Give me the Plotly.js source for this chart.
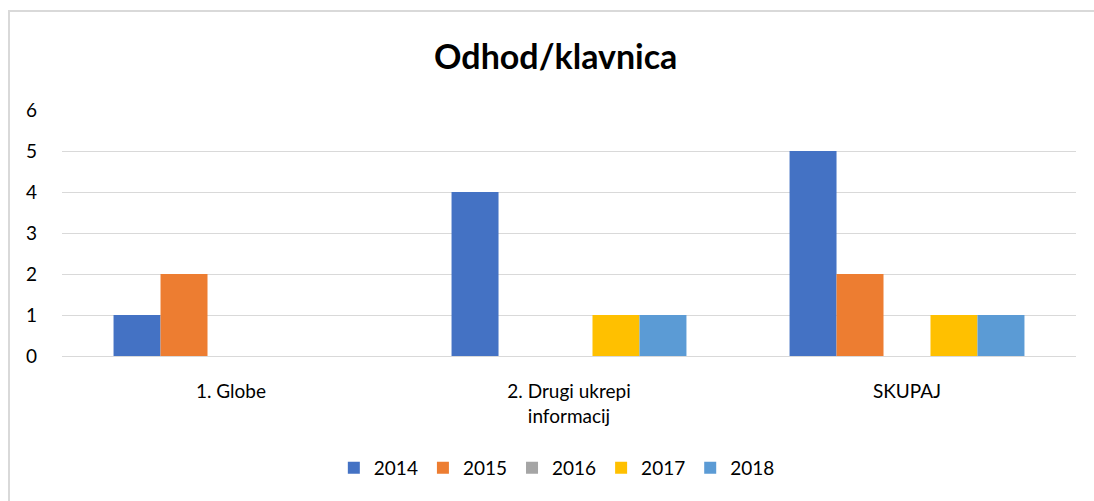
<!DOCTYPE html>
<html>
<head>
<meta charset="utf-8">
<script src="https://cdn.plot.ly/plotly-3.0.1.min.js"></script>
<style>
html,body{margin:0;padding:0;background:#fff;overflow:hidden;}
#wrap{position:relative;width:1094px;height:501px;overflow:hidden;}
#chart{width:1094px;height:501px;}
#frame{position:absolute;left:8px;top:10px;width:1100px;height:510px;border:2px solid #D9D9D9;pointer-events:none;box-sizing:border-box;}
</style>
</head>
<body>
<div id="wrap">
<div id="chart"></div>
<div id="frame"></div>
</div>
<script>
const categories = ["1. Globe", "2. Drugi ukrepi<br>informacij", "SKUPAJ"];
const years = ["2014", "2015", "2016", "2017", "2018"];
const v2014 = [1, 4, 5];
const v2015 = [2, 0, 2];
const v2016 = [0, 0, 0];
const v2017 = [0, 1, 1];
const v2018 = [0, 1, 1];
const colors = ["#4472C4", "#ED7D31", "#A5A5A5", "#FFC000", "#5B9BD5"];
const series = [v2014, v2015, v2016, v2017, v2018];

const traces = series.map((vals, i) => ({
  type: "bar",
  name: years[i],
  x: categories,
  y: vals,
  marker: {color: colors[i]},
  hoverinfo: "none"
}));

const layout = {
  width: 1094,
  height: 501,
  margin: {l: 62, r: 18, t: 110, b: 145},
  paper_bgcolor: "#fff",
  plot_bgcolor: "#fff",
  font: {family: "Lato, 'Open Sans', sans-serif", size: 19, color: "#000"},
  title: {
    text: "<b>Odhod/klavnica</b>",
    font: {family: "Lato, 'Open Sans', sans-serif", size: 34, color: "#000"},
    x: 0.508, xref: "container", xanchor: "center",
    y: 0.886, yref: "container", yanchor: "middle"
  },
  barmode: "group",
  bargap: 0.305,
  bargroupgap: 0,
  xaxis: {
    type: "category",
    showgrid: false,
    showline: false,
    zeroline: false,
    ticks: "",
    tickfont: {size: 19, color: "#000"},
    ticklabelstandoff: 22
  },
  yaxis: {
    range: [0, 6],
    dtick: 1,
    showgrid: true,
    gridcolor: "#D9D9D9",
    gridwidth: 1,
    zeroline: true,
    zerolinecolor: "#D9D9D9",
    zerolinewidth: 1,
    showline: false,
    ticks: "",
    tickfont: {size: 19, color: "#000"},
    ticklabelstandoff: 24
  },
  showlegend: true,
  legend: {
    orientation: "h",
    x: 0.488, xanchor: "center",
    y: -0.455, yanchor: "middle",
    font: {size: 19, color: "#000"},
    itemwidth: 30,
    traceorder: "normal"
  }
};

Plotly.newPlot("chart", traces, layout, {displayModeBar: false, staticPlot: true});
</script>
</body>
</html>
